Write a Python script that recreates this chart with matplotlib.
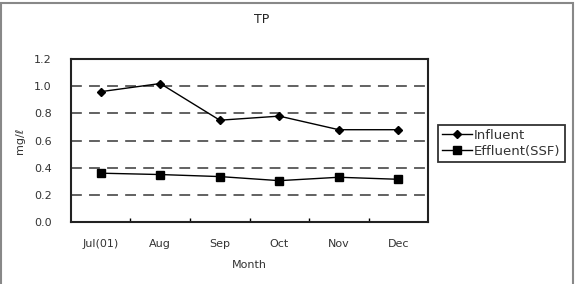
import matplotlib
matplotlib.use("Agg")
import matplotlib.pyplot as plt
from matplotlib.patches import Rectangle

months = ["Jul(01)", "Aug", "Sep", "Oct", "Nov", "Dec"]
influent = [0.96, 1.02, 0.75, 0.78, 0.68, 0.68]
effluent = [0.36, 0.35, 0.335, 0.305, 0.33, 0.315]
yticks = [0.0, 0.2, 0.4, 0.6, 0.8, 1.0, 1.2]

txt = "#333333"
plt.rcParams['font.family'] = ['DejaVu Sans']

fig = plt.figure(figsize=(5.77, 2.84), dpi=100)
ax = fig.add_axes([0.123, 0.218, 0.619, 0.574])

x = list(range(len(months)))
ax.plot(x, influent, color="black", lw=1, marker="D", ms=4.5, label="Influent")
ax.plot(x, effluent, color="black", lw=1, marker="s", ms=6, label="Effluent(SSF)")

ax.set_xlim(-0.5, len(months) - 0.5)
ax.set_ylim(0, 1.2)
ax.set_yticks(yticks)
ax.set_yticklabels(["%.1f" % v for v in yticks], color=txt, fontsize=8)
ax.set_xticks(x)
ax.set_xticklabels(months, color=txt, fontsize=8)
ax.set_xticks([i + 0.5 for i in x[:-1]], minor=True)
ax.tick_params(axis="x", which="major", length=0, pad=12)
ax.tick_params(axis="x", which="minor", direction="in", length=3, width=1)
ax.tick_params(axis="y", length=0, pad=14)
for v in yticks[1:-1]:
    ax.axhline(v, color="#555555", lw=1.3, ls=(0, (6, 4)), zorder=0)
for s in ax.spines.values():
    s.set_linewidth(1.5)
    s.set_color("#222222")

ax.set_xlabel("Month", color=txt, fontsize=8, labelpad=8)
ax.set_ylabel("mg/ℓ", color=txt, fontsize=8, labelpad=6)
fig.text(0.454, 0.93, "TP", ha="center", va="center", color="#222222", fontsize=9)

leg = fig.legend(loc="center left", bbox_to_anchor=(0.759, 0.495), fontsize=9.5,
                 frameon=True, fancybox=False, edgecolor="black", handlelength=2.3,
                 handletextpad=0.15, borderpad=0.3, labelspacing=0.25, borderaxespad=0)
leg.get_frame().set_linewidth(1.3)
for t in leg.get_texts():
    t.set_color(txt)

fig.patches.append(Rectangle((0.001, -0.01), 0.992, 1.0, transform=fig.transFigure,
                             fill=False, edgecolor="#888888", lw=1.5))

fig.savefig("out.png", dpi=100)
